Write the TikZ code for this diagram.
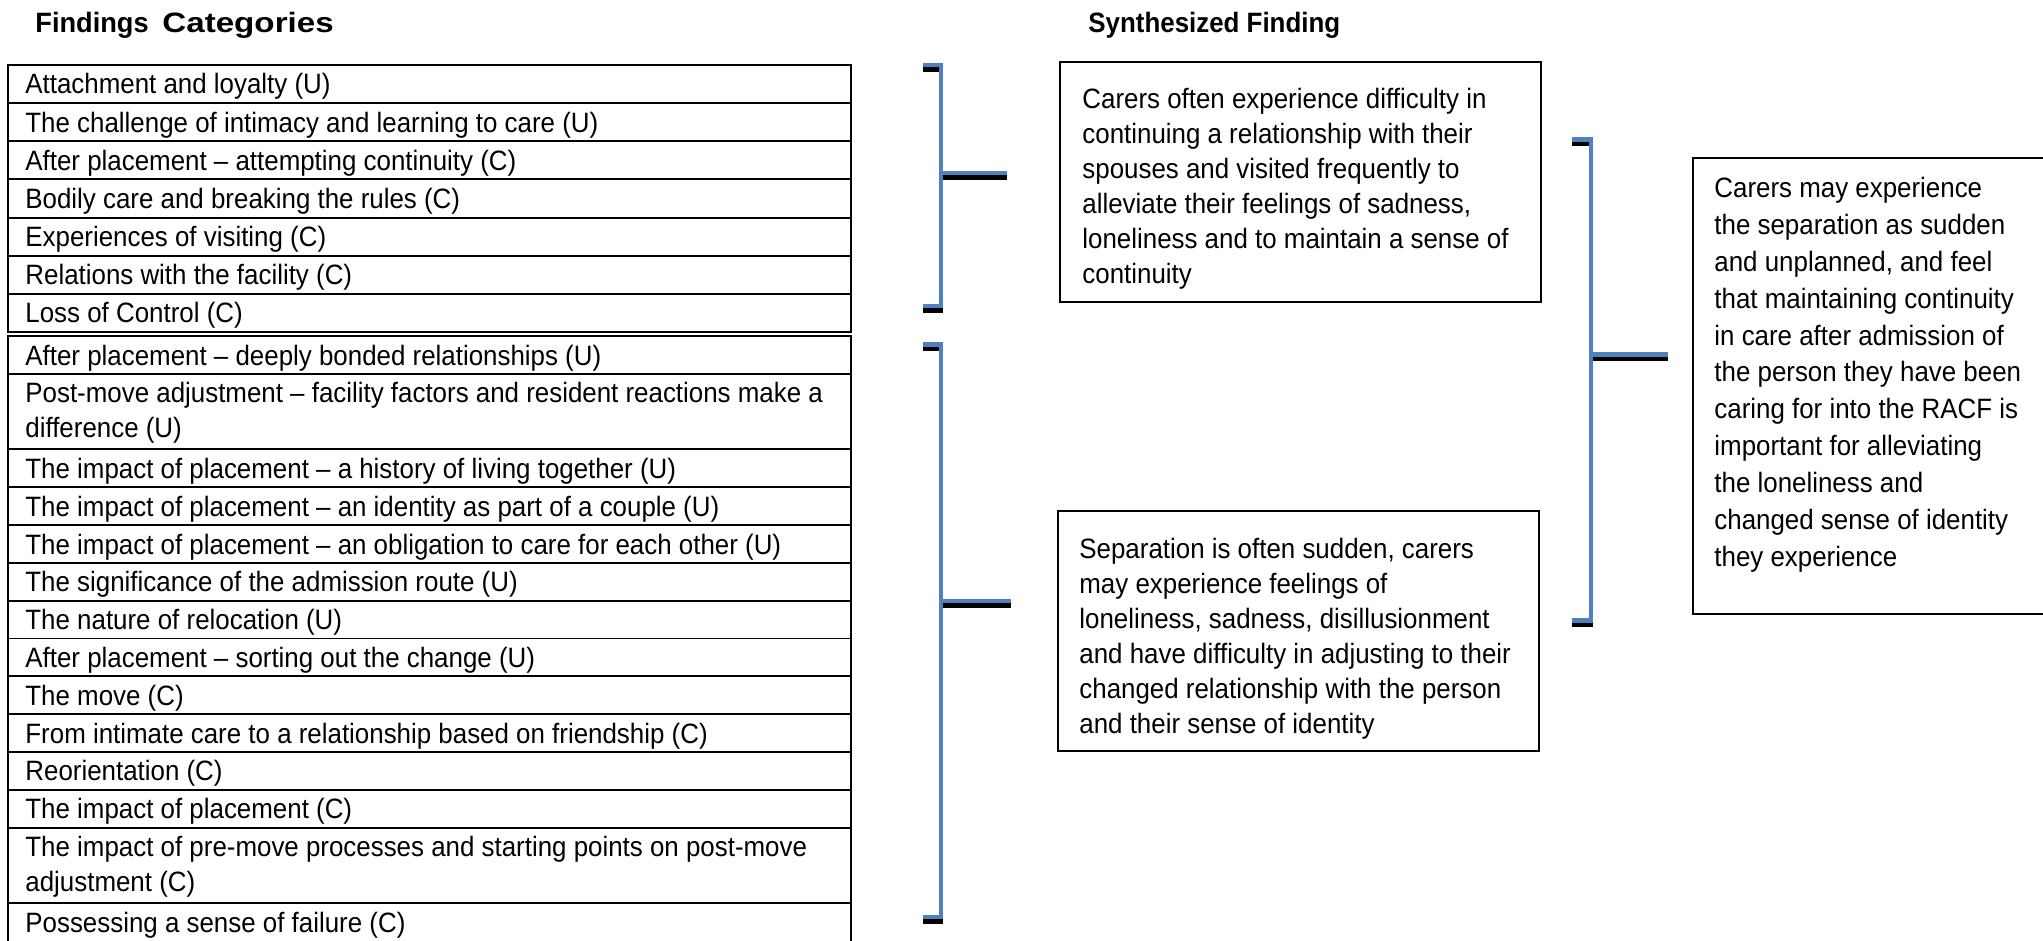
\documentclass[tikz,border=0pt]{standalone}
\usepackage{fontspec}
\setmainfont{Liberation Sans}[FakeStretch=0.925]
\usetikzlibrary{calc}
\definecolor{brblue}{RGB}{79,129,189}
% table row: name, top y (px), height (px), text
\newcommand{\tabrow}[4]{%
  \node[rowbox, minimum height=#3*0.5pt, anchor=north west] (#1) at (8,#2) {};
  \node[rowtext] (#1t) at ($(#1.north west)+(17,29)$) {\parbox[t]{500pt}{\raggedright #4}};
}
% bracket: name, x stub, x vertical, top, bottom, middle y, x arm end
\newcommand{\brackshape}[7]{%
  \coordinate (#1a) at (#2,#4);
  \coordinate (#1b) at (#3,#4);
  \coordinate (#1c) at (#3,#5);
  \coordinate (#1d) at (#2,#5);
  \coordinate (#1m) at (#3,#6);
  \coordinate (#1e) at (#7,#6);
  \draw[brshadow] (#1a) -- (#1b) -- (#1c) -- (#1d) (#1m) -- (#1e);
  \draw[brline] (#1a) -- (#1b) -- (#1c) -- (#1d) (#1m) -- (#1e);
}
\begin{document}
\begin{tikzpicture}[x=0.5pt,y=-0.5pt,
  rowbox/.style={draw, line width=0.95pt, inner sep=0pt, outer sep=0pt, minimum width=421.5pt},
  rowtext/.style={anchor=base west, inner sep=0pt, font=\fontsize{14pt}{17.5pt}\selectfont},
  headtext/.style={anchor=base west, inner sep=0pt, font=\fontsize{14pt}{17.5pt}\selectfont\bfseries},
  findbox/.style={draw, line width=0.75pt, inner sep=0pt, outer sep=0pt, anchor=north west},
  boxtext/.style={anchor=base west, inner sep=0pt, font=\fontsize{14pt}{17.5pt}\selectfont},
  bigtext/.style={anchor=base west, inner sep=0pt, font=\fontsize{14pt}{18.4pt}\selectfont},
  brline/.style={draw=brblue, line width=2.25pt, line cap=butt, line join=miter},
  brshadow/.style={draw=black, line width=2.25pt, line cap=butt, line join=miter, transform canvas={yshift=-2.25pt}}]
\useasboundingbox (0,0) rectangle (2043,941);
\clip (0,0) rectangle (2043,941);
\fill[white] (0,0) rectangle (2043,941);

% headings
\node[headtext] (hfind) at (35,33) {\scalebox{1.05}[1]{Findings}};
\node[headtext] (hcat) at (162,33) {\scalebox{1.28}[1]{Categories}};
\node[headtext] (hsyn) at (1088,33) {Synthesized Finding};

% table 1
\tabrow{a1}{65}{38.14}{Attachment and loyalty (U)}
\tabrow{a2}{103.14}{38.14}{The challenge of intimacy and learning to care (U)}
\tabrow{a3}{141.29}{38.14}{After placement -- attempting continuity (C)}
\tabrow{a4}{179.43}{38.14}{Bodily care and breaking the rules (C)}
\tabrow{a5}{217.57}{38.14}{Experiences of visiting (C)}
\tabrow{a6}{255.71}{38.14}{Relations with the facility (C)}
\tabrow{a7}{293.86}{38.14}{Loss of Control (C)}

% table 2
\tabrow{b1}{336}{37.81}{After placement -- deeply bonded relationships (U)}
\tabrow{b2}{373.81}{75.63}{Post-move adjustment -- facility factors and resident reactions make a\\difference (U)}
\tabrow{b3}{449.44}{37.81}{The impact of placement -- a history of living together (U)}
\tabrow{b4}{487.25}{37.81}{The impact of placement -- an identity as part of a couple (U)}
\tabrow{b5}{525.06}{37.81}{The impact of placement -- an obligation to care for each other (U)}
\tabrow{b6}{562.88}{37.81}{The significance of the admission route (U)}
\tabrow{b7}{600.69}{37.81}{The nature of relocation (U)}
\tabrow{b8}{638.5}{37.81}{After placement -- sorting out the change (U)}
\tabrow{b9}{676.31}{37.81}{The move (C)}
\tabrow{b10}{714.13}{37.81}{From intimate care to a relationship based on friendship (C)}
\tabrow{b11}{751.94}{37.81}{Reorientation (C)}
\tabrow{b12}{789.75}{37.81}{The impact of placement (C)}
\tabrow{b13}{827.56}{75.63}{The impact of pre-move processes and starting points on post-move\\adjustment (C)}
\tabrow{b14}{903.19}{40}{Possessing a sense of failure (C)}

% synthesized finding boxes
\node[findbox, minimum width=240.5pt, minimum height=120pt] (s1) at (1060,62) {};
\node[boxtext] (s1t) at (1082,109) {\parbox[t]{260pt}{\raggedright
Carers often experience difficulty in\\
continuing a relationship with their\\
spouses and visited frequently to\\
alleviate their feelings of sadness,\\
loneliness and to maintain a sense of\\
continuity}};

\node[findbox, minimum width=240.5pt, minimum height=120pt] (s2) at (1058,511) {};
\node[boxtext] (s2t) at (1079,558) {\parbox[t]{260pt}{\raggedright
Separation is often sudden, carers\\
may experience feelings of\\
loneliness, sadness, disillusionment\\
and have difficulty in adjusting to their\\
changed relationship with the person\\
and their sense of identity}};

% final finding
\node[findbox, line width=1pt, minimum width=200pt, minimum height=228pt] (f) at (1693,158) {};
\node[bigtext] (ft) at (1714,198) {\parbox[t]{200pt}{\raggedright
Carers may experience\\
the separation as sudden\\
and unplanned, and feel\\
that maintaining continuity\\
in care after admission of\\
the person they have been\\
caring for into the RACF is\\
important for alleviating\\
the loneliness and\\
changed sense of identity\\
they experience}};

% brackets
\brackshape{k1}{923}{941}{65}{306}{173}{1007}
\brackshape{k2}{923}{941}{344.5}{917}{601}{1011}
\brackshape{k3}{1572}{1591}{139.5}{620.5}{354.5}{1668}
\end{tikzpicture}
\end{document}
